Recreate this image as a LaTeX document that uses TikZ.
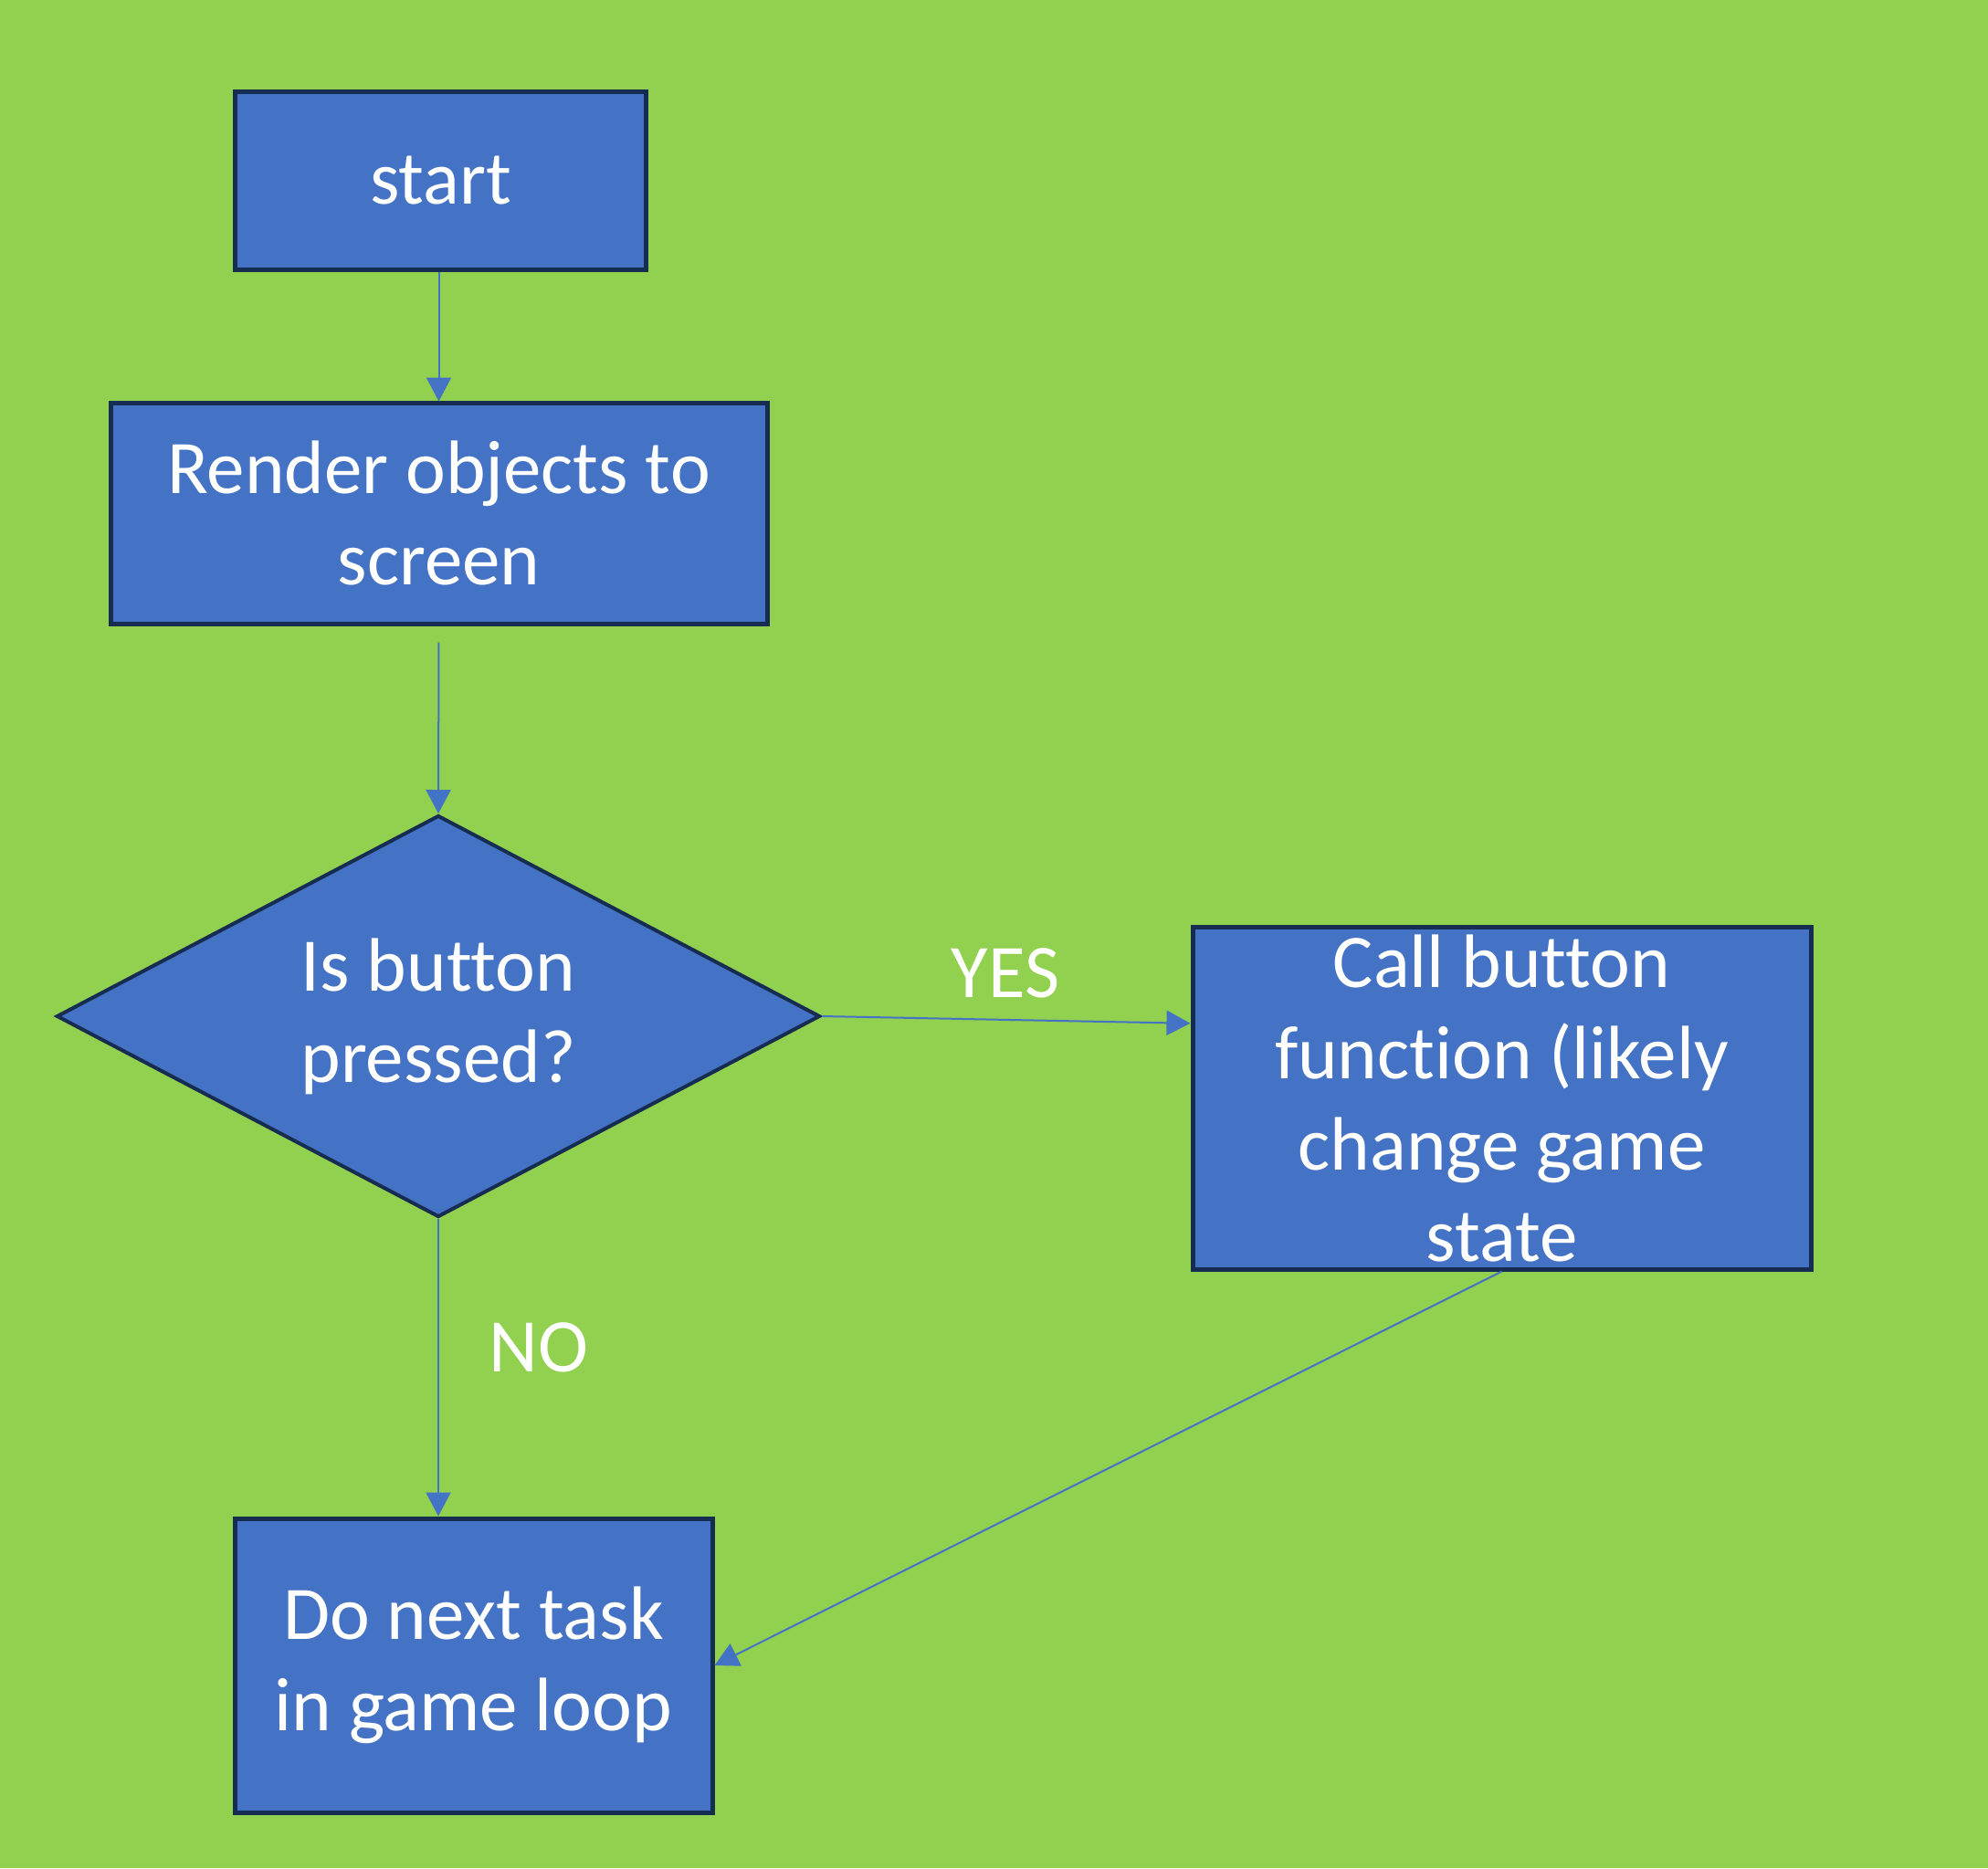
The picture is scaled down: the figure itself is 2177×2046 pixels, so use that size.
\documentclass[tikz,border=0pt]{standalone}
\usepackage{fontspec}
\setmainfont{Carlito}[Ligatures={CommonOff,ContextualOff},Contextuals=NoAlternate]
\usetikzlibrary{shapes.geometric,arrows.meta,calc}
\definecolor{bggreen}{HTML}{92D050}
\definecolor{boxblue}{HTML}{4472C4}
\definecolor{boxedge}{HTML}{172C51}
\tikzset{
  box/.style={draw=boxedge, fill=boxblue, line width=5pt, inner sep=0pt,
    text=white, align=center, font=\fontsize{83}{100}\selectfont},
  decision/.style={diamond, aspect=1.9, draw=boxedge, fill=boxblue, line width=4pt, inner sep=0pt,
    text=white, align=center, font=\fontsize{83}{100}\selectfont},
  conn/.style={draw=boxblue, line width=2pt, -{Triangle[length=26pt,width=27pt]}},
  lbl/.style={text=white, font=\fontsize{83}{100}\selectfont}
}
\begin{document}
\begin{tikzpicture}[x=1pt,y=-1pt]
\fill[bggreen] (0,0) rectangle (2177,2046);
\useasboundingbox (0,0) rectangle (2177,2046);
\node[box, minimum width=450pt, minimum height=195pt] (start) at (482.5,198) {start};
\node[box, minimum width=719pt, minimum height=242pt] (render) at (480.5,562) {Render objects to\\screen};
\node[decision, minimum width=836pt, minimum height=440pt] (dec) at (480,1113) {Is button\\pressed?};
\node[box, minimum width=677pt, minimum height=375pt] (call) at (1644.5,1202.5) {Call button\\function (likely\\change game\\state};
\node[box, minimum width=523pt, minimum height=322pt] (do) at (518.5,1824) {Do next task\\in game loop};
\node[lbl] (yes) at (1101,1066) {YES};
\node[lbl] (no) at (590,1476) {NO};
\coordinate (callin) at ($(call.north west)!0.285!(call.south west)$);
\draw[conn, shorten >=-1pt] (render.north |- start.south) -- (render.north);
\draw[conn, shorten <=18pt] (render.south) -- (dec.north);
\draw[conn] (dec.east) -- (callin);
\draw[conn] (dec.south) -- (dec.south |- do.north);
\draw[conn] (call.south) -- (do.east);
\end{tikzpicture}
\end{document}
